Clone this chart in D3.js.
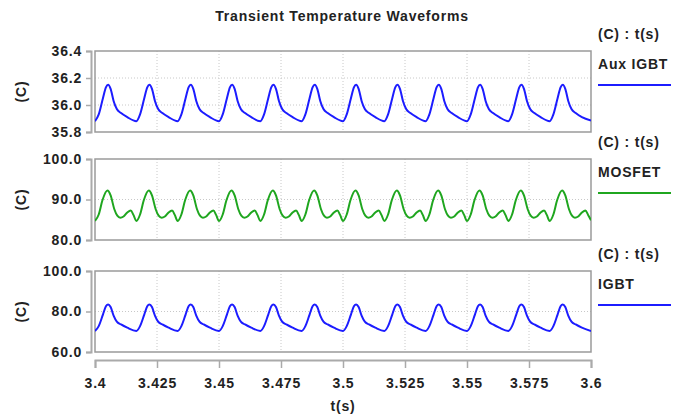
<!DOCTYPE html>
<html>
<head>
<meta charset="utf-8">
<script src="https://cdn.jsdelivr.net/npm/d3@7"></script>
<style>
body { margin: 0; background: #fff; }
text { font-family: "Liberation Sans", Arial, sans-serif; font-weight: bold; fill: #222; letter-spacing: 0.8px; }
</style>
</head>
<body>
<script>
// trough time of each 60 Hz cycle
var cycleStart = [3.4, 3.41667, 3.43333, 3.45, 3.46667, 3.48333, 3.5, 3.51667, 3.53333, 3.55, 3.56667, 3.58333];
var tEnd = 3.6;

// shape of one cycle: ms after the trough, and temperature (C)
var igbtOffset = [0, 1.5, 3.2, 4.4, 5.3, 6.3, 7.5, 8.8, 10.5, 13];
var auxValues  = [35.88, 35.93, 36.05, 36.13, 36.15, 36.12, 36.03, 35.97, 35.94, 35.91];
var igbtValues = [70.4, 72.8, 78.5, 82.6, 83.5, 82.2, 78.0, 75.0, 73.6, 72.0];
var mosOffset  = [0, 1.5, 3.0, 5.0, 6.3, 7.8, 9.0, 10.2, 11.5, 13.0, 14.4, 15.5];
var mosValues  = [84.7, 86.3, 89.8, 92.2, 91.0, 87.6, 86.0, 85.5, 85.8, 86.8, 87.3, 86.2];
var endValues  = [35.885, 84.9, 70.4];

var names = ['Aux IGBT', 'MOSFET', 'IGBT'];
var yDomains = [[35.8, 36.4], [80, 100], [60, 100]];
var yTicks = [[35.8, 36.0, 36.2, 36.4], [80, 90, 100], [60, 80, 100]];
var xTicks = [3.4, 3.425, 3.45, 3.475, 3.5, 3.525, 3.55, 3.575, 3.6];
var colors = ['#1c1cff', '#1fa61f', '#1c1cff'];

function series(offsets, values, last) {
  var pts = [];
  cycleStart.forEach(function(s) {
    offsets.forEach(function(o, i) {
      pts.push({t: s + o / 1000, v: values[i]});
    });
  });
  pts.push({t: tEnd, v: last});
  return pts;
}

var data = [
  series(igbtOffset, auxValues, endValues[0]),
  series(mosOffset, mosValues, endValues[1]),
  series(igbtOffset, igbtValues, endValues[2])
];

var W = 682, H = 417;
var left = 95, right = 591, ph = 81;
var tops = [51, 159, 271];
var axisY = 360;
var fs = '14px';

var svg = d3.select('body').append('svg')
  .attr('width', W)
  .attr('height', H);

var x = d3.scaleLinear().domain([3.4, 3.6]).range([left, right]);

svg.append('text')
  .attr('x', 342).attr('y', 21)
  .attr('text-anchor', 'middle')
  .style('font-size', fs)
  .text('Transient Temperature Waveforms');

data.forEach(function(d, k) {
  var y = d3.scaleLinear().domain(yDomains[k]).range([ph, 0]);
  var g = svg.append('g').attr('transform', 'translate(0,' + tops[k] + ')');

  g.append('clipPath').attr('id', 'clip' + k)
    .append('rect')
    .attr('x', left).attr('y', 0)
    .attr('width', right - left).attr('height', ph);

  // grid
  g.selectAll('.vg')
    .data(xTicks.slice(1, -1))
    .enter().append('line')
    .attr('x1', x).attr('x2', x)
    .attr('y1', 0).attr('y2', ph)
    .attr('stroke', '#c8c8c8')
    .attr('stroke-dasharray', '1,2');

  g.selectAll('.hg')
    .data(yTicks[k].slice(1, -1))
    .enter().append('line')
    .attr('x1', left).attr('x2', right)
    .attr('y1', y).attr('y2', y)
    .attr('stroke', '#c8c8c8')
    .attr('stroke-dasharray', '1,2');

  g.append('rect')
    .attr('x', left).attr('y', 0)
    .attr('width', right - left).attr('height', ph)
    .attr('fill', 'none')
    .attr('stroke', '#9a9a9a')
    .attr('stroke-width', 1.5);

  var yAxis = g.append('g')
    .attr('transform', 'translate(' + (left - 4) + ',0)')
    .call(d3.axisLeft(y).tickValues(yTicks[k]).tickFormat(d3.format('.1f')).tickSize(5).tickPadding(4));
  yAxis.select('.domain').attr('stroke', '#aaa').attr('stroke-width', 2);
  yAxis.selectAll('.tick line').attr('stroke', '#aaa').attr('stroke-width', 1.5);
  yAxis.selectAll('text').style('font-size', fs).attr('fill', '#222');

  g.append('text')
    .attr('transform', 'translate(26,' + ph / 2 + ') rotate(-90)')
    .attr('text-anchor', 'middle')
    .style('font-size', fs)
    .text('(C)');

  var line = d3.line()
    .x(function(p) { return x(p.t); })
    .y(function(p) { return y(p.v); })
    .curve(d3.curveMonotoneX);

  g.append('path')
    .datum(d)
    .attr('clip-path', 'url(#clip' + k + ')')
    .attr('d', line)
    .attr('fill', 'none')
    .attr('stroke', colors[k])
    .attr('stroke-width', 2);

  // legend
  g.append('text')
    .attr('x', 598).attr('y', -12)
    .style('font-size', fs)
    .text('(C) : t(s)');
  g.append('text')
    .attr('x', 598).attr('y', 18)
    .style('font-size', fs)
    .text(names[k]);
  g.append('line')
    .attr('x1', 598).attr('x2', 671)
    .attr('y1', 34).attr('y2', 34)
    .attr('stroke', colors[k])
    .attr('stroke-width', 2);
});

var xAxis = svg.append('g')
  .attr('transform', 'translate(0,' + axisY + ')')
  .call(d3.axisBottom(x).tickValues(xTicks).tickFormat(function(d) { return String(d); }).tickSize(8).tickPadding(10));
xAxis.select('.domain').attr('stroke', '#aaa').attr('stroke-width', 2);
xAxis.selectAll('.tick line').attr('stroke', '#aaa').attr('stroke-width', 1.5);
xAxis.selectAll('text').style('font-size', fs).attr('fill', '#222');

svg.append('text')
  .attr('x', 343).attr('y', 411)
  .attr('text-anchor', 'middle')
  .style('font-size', fs)
  .text('t(s)');
</script>
</body>
</html>
